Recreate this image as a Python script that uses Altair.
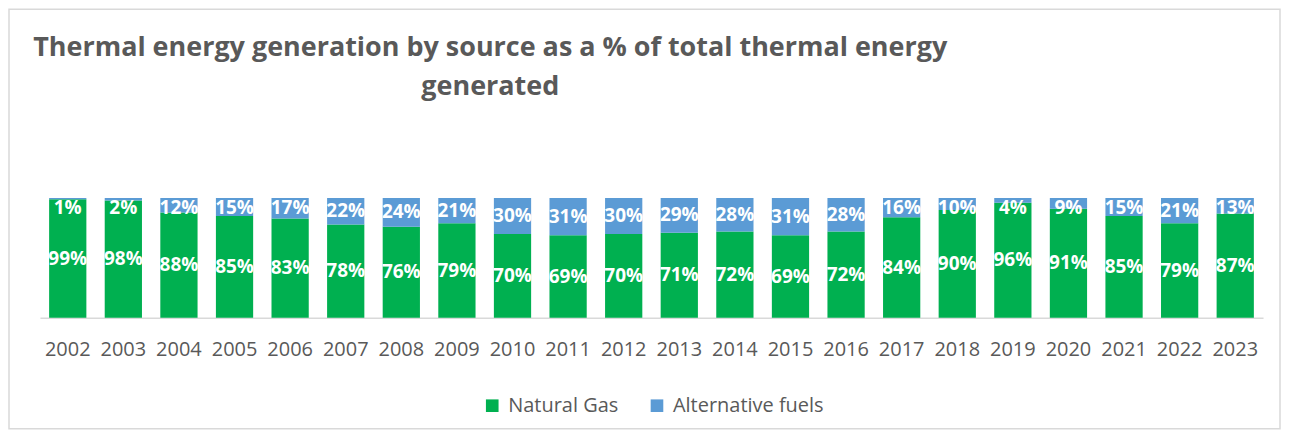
import altair as alt
import pandas as pd

years = [str(y) for y in range(2002, 2024)]
natural_gas = [99, 98, 88, 85, 83, 78, 76, 79, 70, 69, 70, 71, 72, 69, 72, 84, 90, 96, 91, 85, 79, 87]
alternative = [1, 2, 12, 15, 17, 22, 24, 21, 30, 31, 30, 29, 28, 31, 28, 16, 10, 4, 9, 15, 21, 13]
series = ["Natural Gas", "Alternative fuels"]
colors = ["#00B050", "#5B9BD5"]
title_lines = "Thermal energy generation by source as a % of total thermal energy\ngenerated"

rows = []
for yr, g, a in zip(years, natural_gas, alternative):
    rows.append({"year": yr, "source": series[0], "value": g, "start": 0, "end": g, "order": 0})
    rows.append({"year": yr, "source": series[1], "value": a, "start": g, "end": g + a, "order": 1})
df = pd.DataFrame(rows)

W, H = 1225, 120
FONT = "Open Sans"

base = alt.Chart(df)

bars = base.mark_bar().encode(
    x=alt.X("year:N", sort=years,
            scale=alt.Scale(paddingInner=0.33, paddingOuter=0.165),
            axis=alt.Axis(title=None, labelAngle=0, labelFontSize=20, labelFont=FONT,
                          labelColor="#595959", ticks=False, labelPadding=22,
                          domainColor="#d9d9d9", domainWidth=1.5)),
    y=alt.Y("start:Q", scale=alt.Scale(domain=[0, 100]), axis=None),
    y2="end:Q",
    color=alt.Color("source:N", sort=series,
                    scale=alt.Scale(domain=series, range=colors),
                    legend=alt.Legend(title=None, orient="none", direction="horizontal",
                                      legendX=443, legendY=198, symbolType="square",
                                      symbolSize=160, symbolStrokeWidth=0,
                                      labelFontSize=20, labelFont=FONT, labelColor="#595959",
                                      columnPadding=28, labelOffset=6)),
    order="order:Q",
)

labels = base.transform_calculate(
    mid="min((datum.start + datum.end) / 2, 92)",
    txt="datum.value + '%'",
).mark_text(color="white", fontWeight="bold", fontSize=19, font=FONT, baseline="middle").encode(
    x=alt.X("year:N", sort=years),
    y=alt.Y("mid:Q", scale=alt.Scale(domain=[0, 100])),
    text="txt:N",
)

single = alt.Chart(pd.DataFrame({"t": [title_lines]}))

frame = single.mark_rect(
    fill=None, stroke="#d9d9d9", strokeWidth=1.5
).encode(
    x=alt.value(-31), x2=alt.value(1242), y=alt.value(-189), y2=alt.value(231)
)

title = single.mark_text(
    font=FONT, fontSize=27, fontWeight="bold", color="#595959",
    align="center", baseline="alphabetic", lineBreak="\n", lineHeight=39,
).encode(
    x=alt.value(451), y=alt.value(-142), text="t:N"
)

chart = alt.layer(frame, bars, labels, title).properties(
    width=W, height=H,
    padding={"left": 32, "top": 190, "right": 20, "bottom": 114},
    autosize=alt.AutoSizeParams(type="none"),
).configure(background="white").configure_view(stroke=None)

chart.save("out.html", embed_options={"renderer": "svg", "actions": False})
